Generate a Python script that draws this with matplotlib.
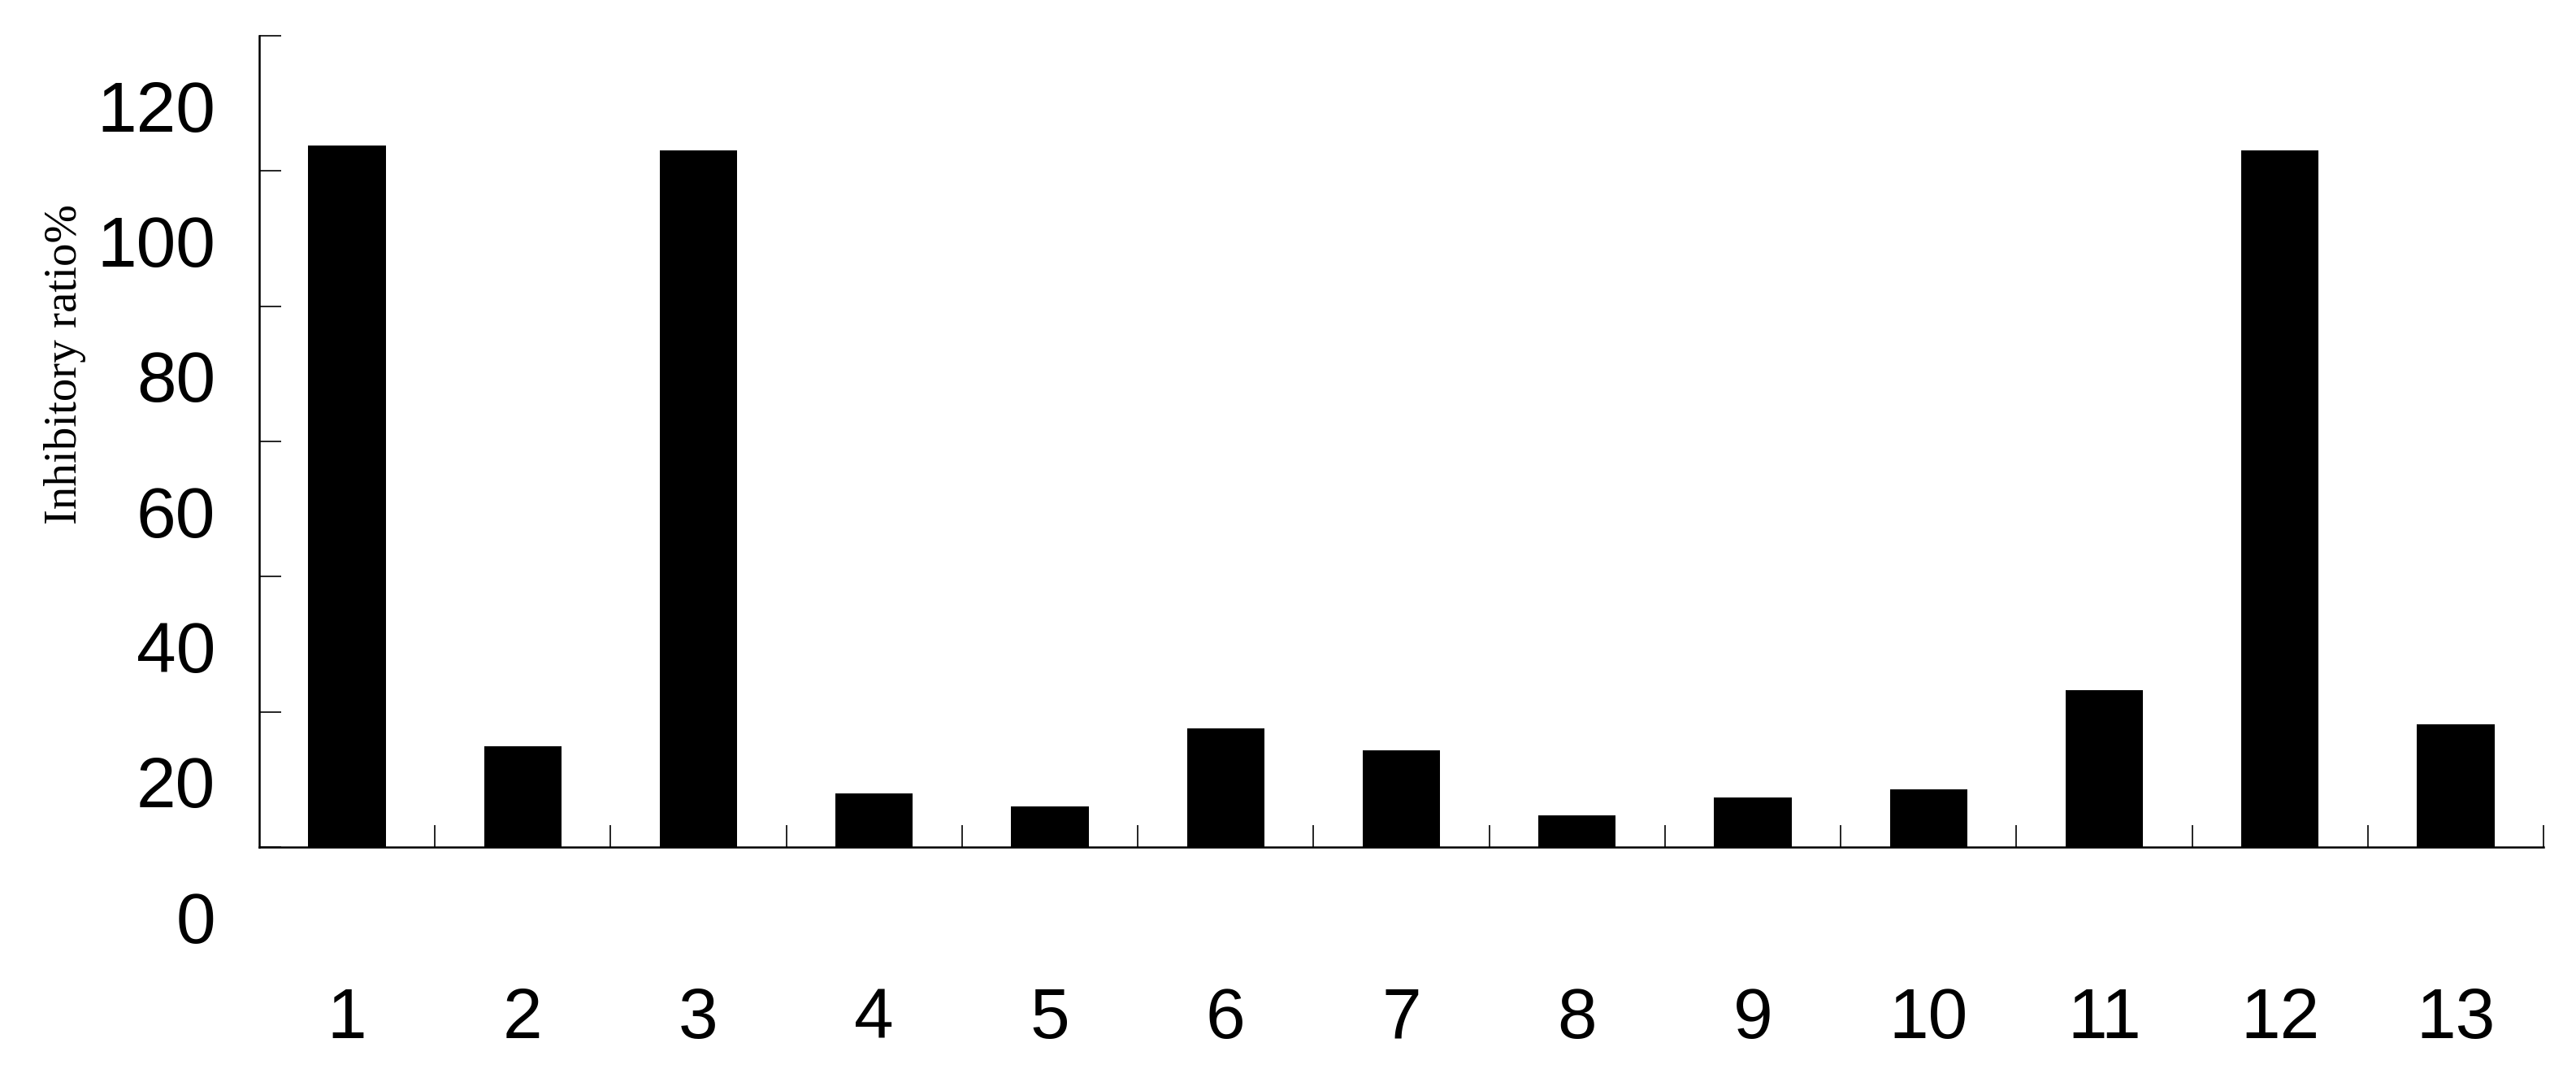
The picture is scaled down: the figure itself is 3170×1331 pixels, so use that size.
import matplotlib
matplotlib.use("Agg")
import matplotlib.pyplot as plt
import matplotlib.transforms as mtransforms
import numpy as np

categories = ["1", "2", "3", "4", "5", "6", "7", "8", "9", "10", "11", "12", "13"]
values = [103.8, 14.9, 103.1, 7.9, 6.0, 17.6, 14.3, 4.7, 7.3, 8.5, 23.2, 103.0, 18.2]
y_ticks = [0, 20, 40, 60, 80, 100, 120]
y_label = "Inhibitory ratio%"

DPI = 100
fig = plt.figure(figsize=(31.7, 13.31), dpi=DPI)
ax = fig.add_axes([0.1006, 0.2171, 0.8868, 0.7498])

x = np.arange(1, len(categories) + 1)
ax.bar(x, values, width=0.44, color="black", edgecolor="none", zorder=3)

ax.set_xlim(0.5, len(categories) + 0.5)
ax.set_ylim(0, 120)

for s in ["top", "right"]:
    ax.spines[s].set_visible(False)
for s in ["left", "bottom"]:
    ax.spines[s].set_linewidth(1.8)
    ax.spines[s].set_color("black")

# x: category labels at centers, tick marks at category boundaries
ax.set_xticks(x)
ax.set_xticklabels(categories, fontfamily="Liberation Sans", fontsize=63)
ax.set_xticks(np.arange(1.5, len(categories) + 0.6, 1.0), minor=True)
ax.tick_params(axis="x", which="major", length=0, pad=124)
ax.tick_params(axis="x", which="minor", direction="in", length=19.4, width=1.2)

# y: ticks inward, labels drawn shifted downward as in the reference
ax.set_yticks(y_ticks)
ax.tick_params(axis="y", which="major", direction="in", length=19.4, width=1.2,
               labelleft=False)
offset = mtransforms.ScaledTranslation(-0.54, -0.95, fig.dpi_scale_trans)
for v in y_ticks:
    ax.text(0, v, str(v), transform=ax.get_yaxis_transform() + offset,
            ha="right", va="center", fontfamily="Liberation Sans", fontsize=63,
            clip_on=False)

fig.text(80 / 3170, 1 - 448 / 1331, y_label, rotation=90, ha="center", va="center",
         fontfamily="Liberation Serif", fontsize=41)

fig.savefig("out.png", dpi=DPI, facecolor="white")
